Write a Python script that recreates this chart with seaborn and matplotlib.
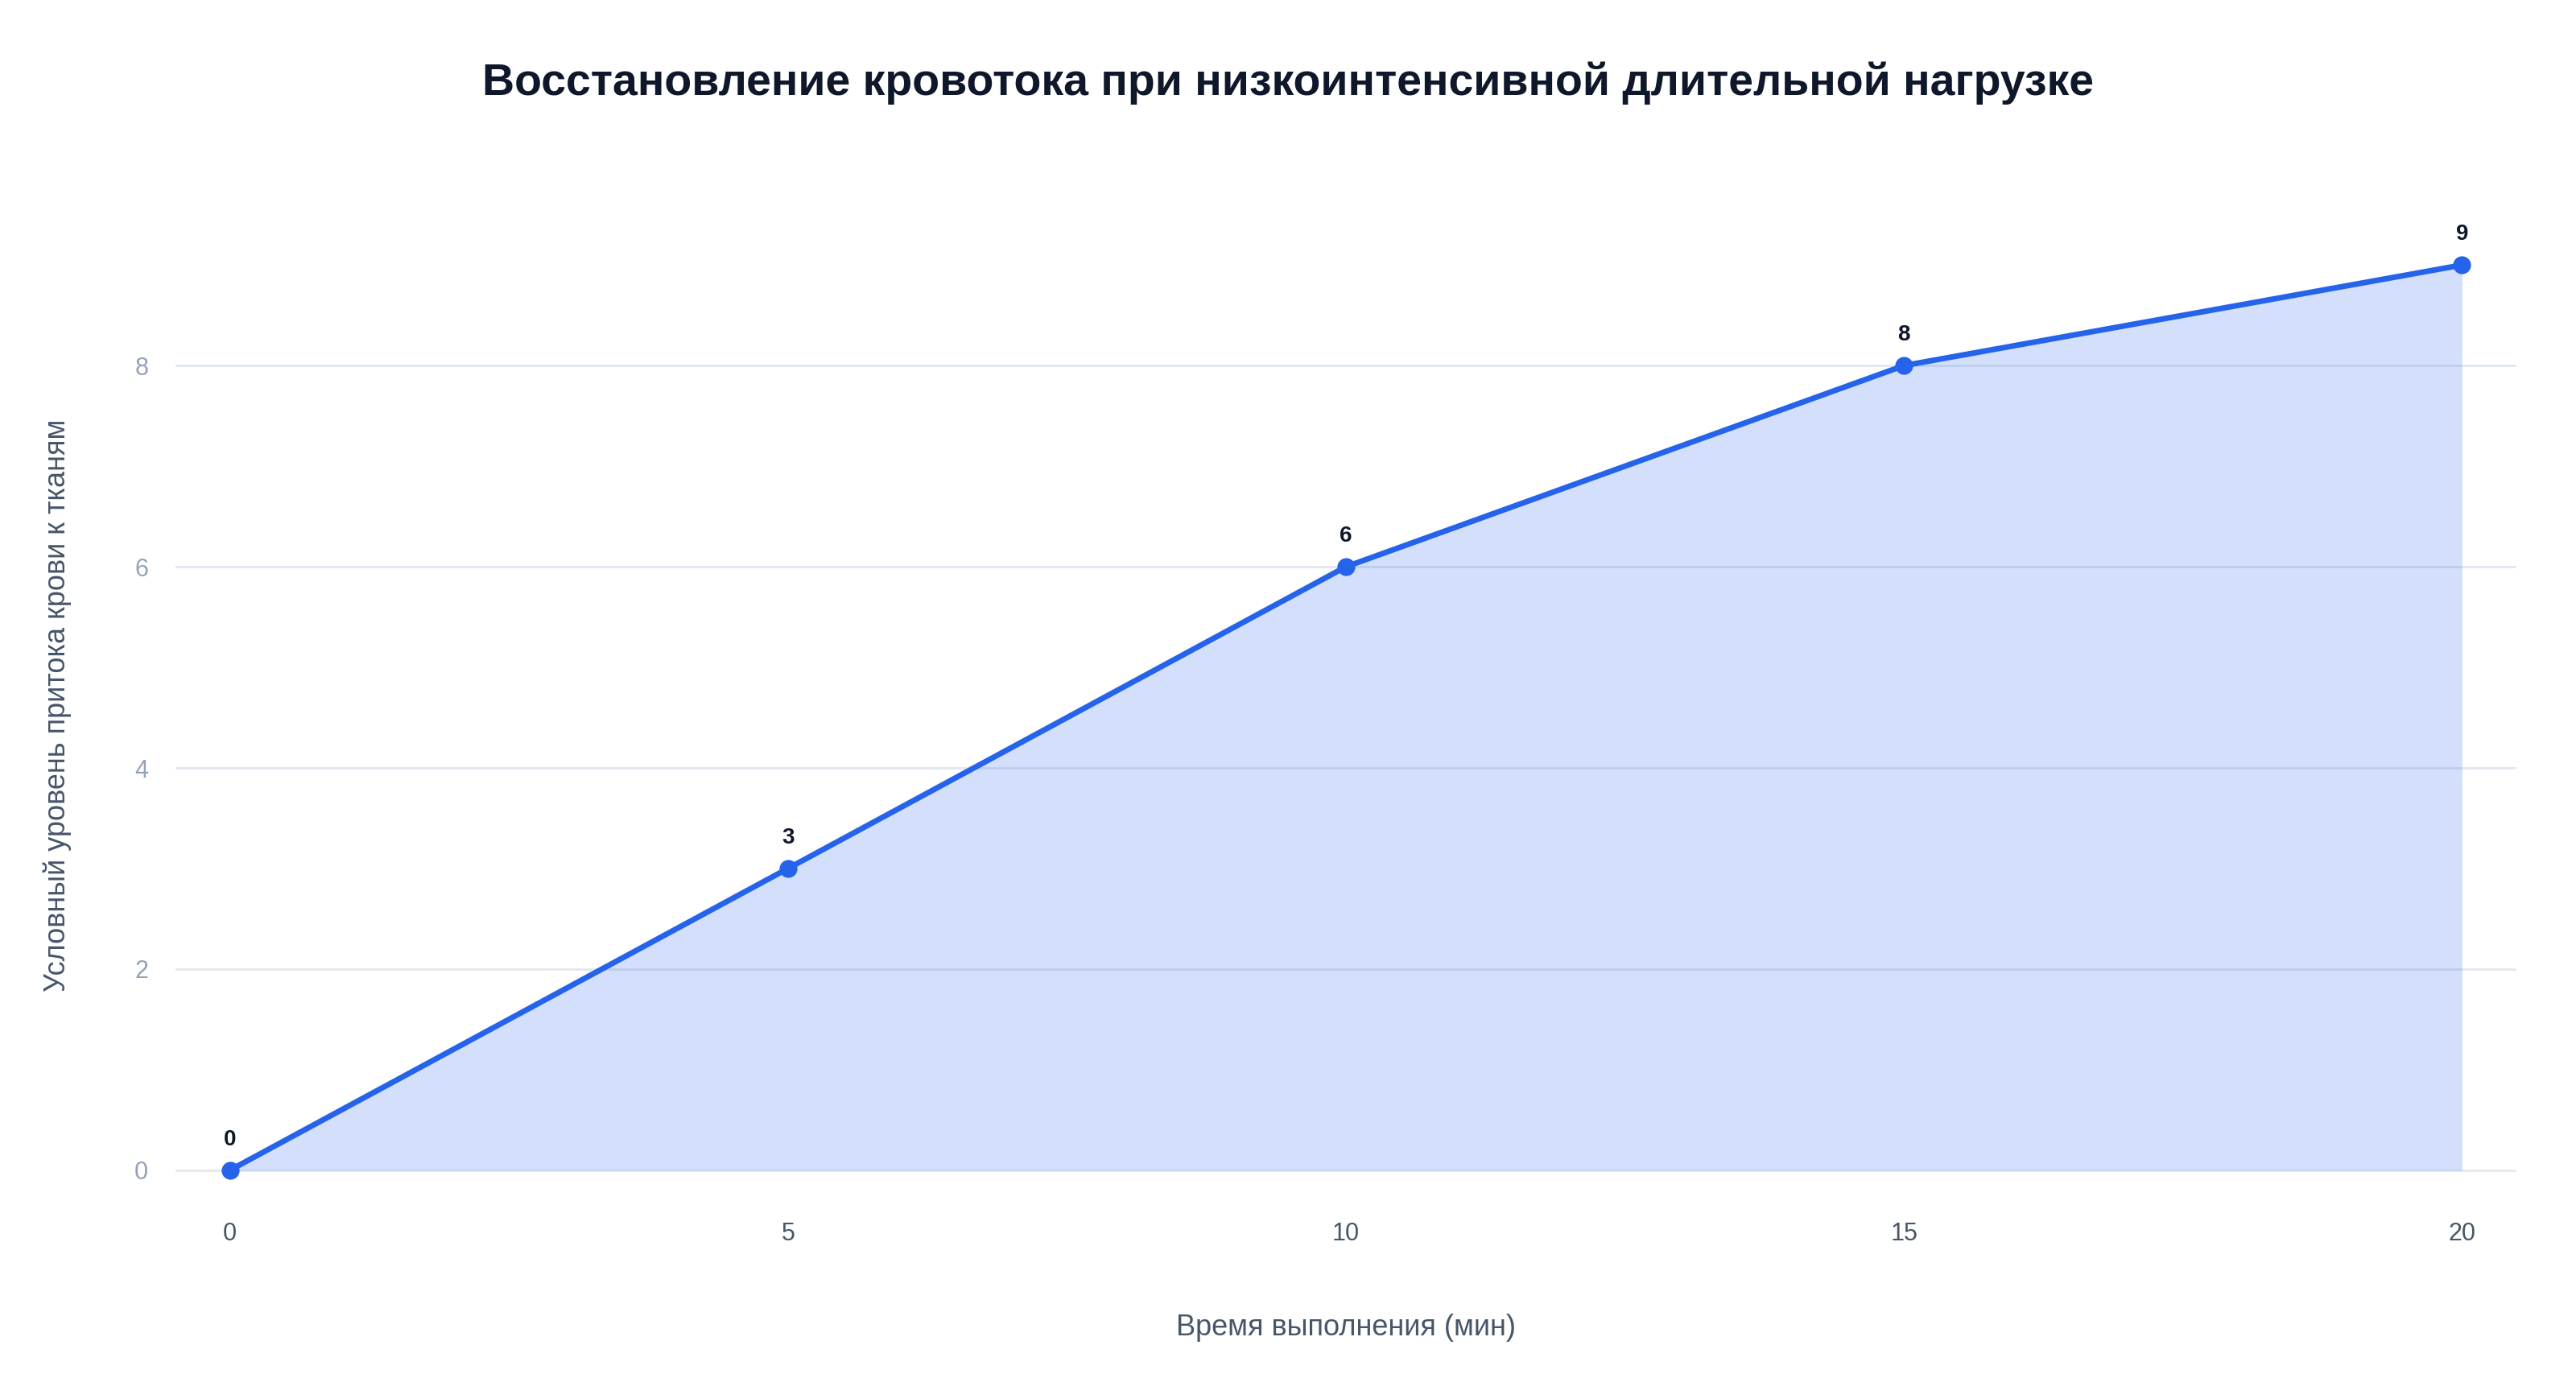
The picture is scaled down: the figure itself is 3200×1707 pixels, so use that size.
import matplotlib
matplotlib.use("Agg")
import matplotlib.pyplot as plt
import seaborn as sns
import pandas as pd

minutes = [0, 5, 10, 15, 20]
flow = [0, 3, 6, 8, 9]
df = pd.DataFrame({"t": minutes, "v": flow})

sns.set_theme(style="white")
plt.rcParams['font.family'] = ['Liberation Sans', 'DejaVu Sans']

fig = plt.figure(figsize=(16, 8.535), dpi=200)
ax = fig.add_axes([0.068, 0.130, 0.909, 0.713])
ax.fill_between(df["t"], df["v"], 0, color="#2563eb", alpha=0.2, linewidth=0)
sns.lineplot(data=df, x="t", y="v", ax=ax, color="#2563eb", linewidth=2.5,
             marker="o", markersize=8, markeredgewidth=0)
for x, y in zip(minutes, flow):
    ax.annotate(str(y), (x, y), xytext=(0, 9), textcoords="offset points",
                ha="center", va="bottom", fontsize=10, fontweight="bold", color="#0f172a")

ax.set_xlim(-0.49, 20.49)
ax.set_ylim(-0.25, 9.49)
ax.set_xticks(minutes)
ax.set_yticks([0, 2, 4, 6, 8])
ax.grid(axis="y", color="#e2e8f0", linewidth=1)
ax.set_axisbelow(True)
for s in ax.spines.values():
    s.set_visible(False)
ax.tick_params(axis="x", colors="#475569", labelsize=11, length=0, pad=12)
ax.tick_params(axis="y", colors="#94a3b8", labelsize=11, length=0, pad=12)
ax.set_xlabel("Время выполнения (мин)", fontsize=13, color="#475569", labelpad=30)
ax.set_ylabel("Условный уровень притока крови к тканям", fontsize=13, color="#475569", labelpad=28)
fig.suptitle("Восстановление кровотока при низкоинтенсивной длительной нагрузке",
             y=0.955, fontsize=20, fontweight="bold", color="#0f172a")
fig.savefig("out.png", dpi=200, facecolor="white")
